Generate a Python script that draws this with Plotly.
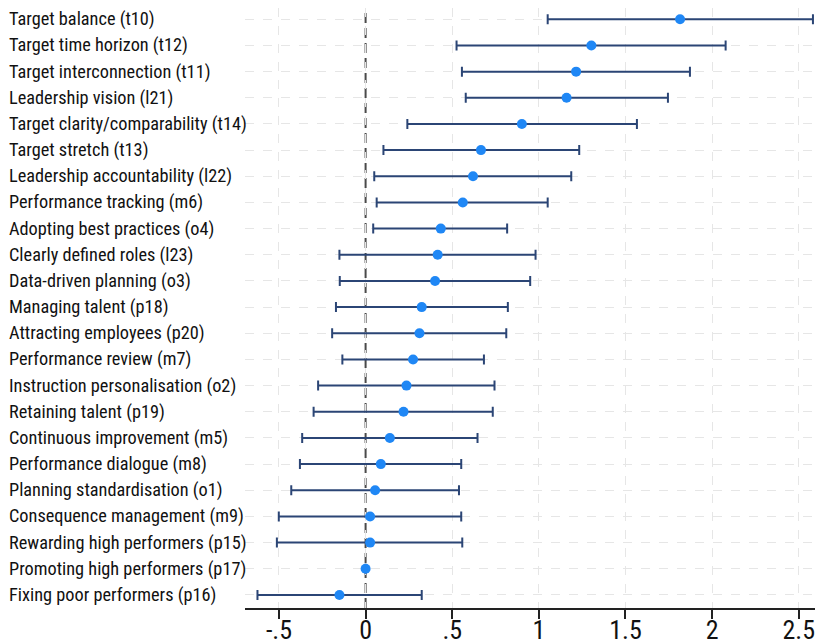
import plotly.graph_objects as go

labels = [
    "Target balance (t10)",
    "Target time horizon (t12)",
    "Target interconnection (t11)",
    "Leadership vision (l21)",
    "Target clarity/comparability (t14)",
    "Target stretch (t13)",
    "Leadership accountability (l22)",
    "Performance tracking (m6)",
    "Adopting best practices (o4)",
    "Clearly defined roles (l23)",
    "Data-driven planning (o3)",
    "Managing talent (p18)",
    "Attracting employees (p20)",
    "Performance review (m7)",
    "Instruction personalisation (o2)",
    "Retaining talent (p19)",
    "Continuous improvement (m5)",
    "Performance dialogue (m8)",
    "Planning standardisation (o1)",
    "Consequence management (m9)",
    "Rewarding high performers (p15)",
    "Promoting high performers (p17)",
    "Fixing poor performers (p16)",
]
coef = [1.815, 1.303, 1.215, 1.160, 0.902, 0.666, 0.620, 0.561, 0.434, 0.416, 0.401,
        0.324, 0.311, 0.274, 0.236, 0.219, 0.140, 0.088, 0.055, 0.026, 0.026, 0.0, -0.151]
ci_low = [1.051, 0.525, 0.556, 0.578, 0.241, 0.103, 0.050, 0.064, 0.044, -0.151, -0.149,
          -0.171, -0.193, -0.134, -0.274, -0.300, -0.366, -0.379, -0.429, -0.501, -0.512, 0.0, -0.624]
ci_high = [2.582, 2.078, 1.872, 1.745, 1.566, 1.233, 1.187, 1.051, 0.817, 0.981, 0.950,
           0.821, 0.812, 0.683, 0.744, 0.734, 0.646, 0.552, 0.539, 0.552, 0.558, 0.0, 0.324]
tick_vals = [-0.5, 0, 0.5, 1, 1.5, 2, 2.5]
tick_text = ["-.5", "0", ".5", "1", "1.5", "2", "2.5"]

err_plus = [(h - c) if h != l else None for c, l, h in zip(coef, ci_low, ci_high)]
err_minus = [(c - l) if h != l else None for c, l, h in zip(coef, ci_low, ci_high)]

# page has an 8px body margin; figure sized to fill the 823x643 window
W, H = 815, 635
ML, MR, MT, MB = 237, 0, 0, 35
FONT = "Roboto Condensed, Liberation Sans, Arial, sans-serif"

fig = go.Figure()
fig.add_trace(go.Scatter(
    x=coef, y=labels, mode="markers",
    marker=dict(color="#1f87f5", size=10),
    error_x=dict(type="data", symmetric=False, array=err_plus, arrayminus=err_minus,
                 color="#2b4575", thickness=2, width=5),
    showlegend=False,
))

fig.add_vline(x=0, line=dict(color="#4a4a4a", width=2, dash="10px,5px"), layer="below")

plot_w = W - ML - MR
for lab in labels:
    fig.add_annotation(x=(-1 - ML) / plot_w, xref="paper", y=lab, yref="y",
                       text=lab, showarrow=False, xanchor="left", yanchor="middle",
                       font=dict(family=FONT, size=18.3, color="#111111"))

fig.update_xaxes(range=[-0.696, 2.64], tickvals=tick_vals, ticktext=tick_text,
                 automargin=False, ticklabelstandoff=-11,
                 showgrid=True, gridcolor="#e6e6e6", griddash="dash", gridwidth=1,
                 zeroline=False, showline=True, linecolor="#222222", linewidth=1.5,
                 ticks="outside", ticklen=9, tickwidth=1.5, tickcolor="#222222",
                 tickfont=dict(family=FONT, size=26, color="#111111"))
fig.update_yaxes(type="category", categoryorder="array", categoryarray=labels,
                 range=[len(labels) - 0.5, -0.432], showticklabels=False, automargin=False,
                 showgrid=True, gridcolor="#e6e6e6", griddash="dash", gridwidth=1,
                 zeroline=False, showline=False, ticks="")

fig.update_layout(width=W, height=H, margin=dict(l=ML, r=MR, t=MT, b=MB),
                  plot_bgcolor="white", paper_bgcolor="white")
fig.write_html("out.html")
